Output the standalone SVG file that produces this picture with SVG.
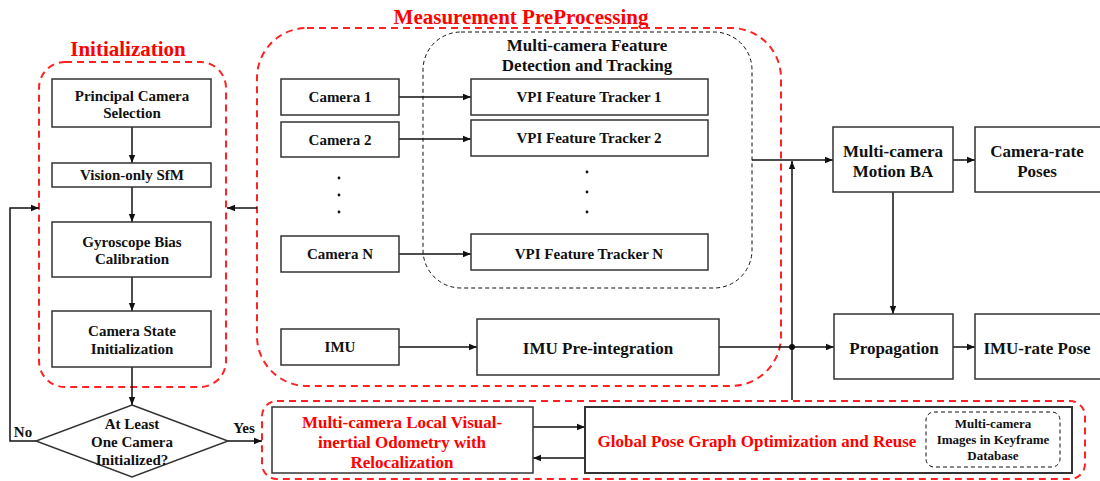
<svg xmlns="http://www.w3.org/2000/svg" width="1100" height="481" viewBox="0 0 1100 481">
<style>
text{font-family:"Liberation Serif","Times New Roman",serif;font-weight:bold;fill:#111;text-anchor:middle}
.box{fill:#fff;stroke:#333;stroke-width:1.5}
.red{fill:none;stroke:#f22;stroke-width:2;stroke-dasharray:7 5}
.blk{fill:none;stroke:#111;stroke-width:1;stroke-dasharray:4 3}
.ln{fill:none;stroke:#111;stroke-width:1.5}
.t15{font-size:15px}
.t17{font-size:17px}
.t13{font-size:13px}
.title{font-size:21px;fill:#f00}
.rt{fill:#f00}
</style>
<defs>
<marker id="ah" viewBox="0 0 10 10" refX="10" refY="5" markerWidth="8" markerHeight="8" markerUnits="userSpaceOnUse" orient="auto">
<path d="M0,1 L10,5 L0,9 z" fill="#111"/>
</marker>
</defs>

<g id="groups">
<text class="title" x="128" y="56">Initialization</text>
<rect class="red" x="39" y="62" width="187" height="325" rx="26"/>
<text class="title" x="521" y="24">Measurement PreProcessing</text>
<rect class="red" x="257" y="28" width="524" height="358" rx="50"/>
<rect class="blk" x="423" y="32" width="329" height="256" rx="38"/>
<text class="t17" x="587" y="51">Multi-camera Feature</text>
<text class="t17" x="587" y="71">Detection and Tracking</text>
<rect class="red" x="262" y="401" width="823" height="78" rx="15"/>
</g>

<g id="connectors">
<line class="ln" x1="132" y1="127" x2="132" y2="163" marker-end="url(#ah)"/>
<line class="ln" x1="132" y1="187" x2="132" y2="222" marker-end="url(#ah)"/>
<line class="ln" x1="132" y1="277" x2="132" y2="311" marker-end="url(#ah)"/>
<line class="ln" x1="132" y1="367" x2="132" y2="405" marker-end="url(#ah)"/>
<polyline class="ln" points="36,441 10,441 10,208 39,208" marker-end="url(#ah)"/>
<line class="ln" x1="257" y1="208" x2="227" y2="208" marker-end="url(#ah)"/>
<line class="ln" x1="228" y1="441" x2="262" y2="441" marker-end="url(#ah)"/>
<line class="ln" x1="399" y1="97" x2="471" y2="97" marker-end="url(#ah)"/>
<line class="ln" x1="399" y1="139" x2="471" y2="139" marker-end="url(#ah)"/>
<line class="ln" x1="399" y1="254" x2="471" y2="254" marker-end="url(#ah)"/>
<line class="ln" x1="399" y1="347" x2="477" y2="347" marker-end="url(#ah)"/>
<line class="ln" x1="719" y1="347" x2="834" y2="347" marker-end="url(#ah)"/>
<circle cx="792" cy="347" r="3" fill="#111"/>
<line class="ln" x1="752" y1="160" x2="833" y2="160" marker-end="url(#ah)"/>
<line class="ln" x1="792" y1="400" x2="792" y2="161" marker-end="url(#ah)"/>
<line class="ln" x1="893" y1="192" x2="893" y2="314" marker-end="url(#ah)"/>
<line class="ln" x1="953" y1="160" x2="975" y2="160" marker-end="url(#ah)"/>
<line class="ln" x1="953" y1="347" x2="975" y2="347" marker-end="url(#ah)"/>
<line class="ln" x1="533" y1="427" x2="585" y2="427" marker-end="url(#ah)"/>
<line class="ln" x1="585" y1="458" x2="533" y2="458" marker-end="url(#ah)"/>
</g>

<g id="n-principal"><rect class="box" x="52" y="79" width="159" height="48"/>
<text class="t15" x="132" y="101">Principal Camera</text><text class="t15" x="132" y="118">Selection</text></g>
<g id="n-sfm"><rect class="box" x="52" y="163" width="159" height="24"/>
<text class="t15" x="132" y="180">Vision-only SfM</text></g>
<g id="n-gyro"><rect class="box" x="52" y="222" width="159" height="55"/>
<text class="t15" x="132" y="247">Gyroscope Bias</text><text class="t15" x="132" y="264">Calibration</text></g>
<g id="n-camstate"><rect class="box" x="52" y="311" width="159" height="56"/>
<text class="t15" x="132" y="336">Camera State</text><text class="t15" x="132" y="354">Initialization</text></g>
<g id="n-decision"><polygon class="box" points="132,405 228,441 132,477 36,441"/>
<text class="t15" x="132" y="429">At Least</text><text class="t15" x="132" y="447">One Camera</text><text class="t15" x="132" y="465">Initialized?</text></g>
<g id="l-no"><text class="t15" x="23" y="437">No</text></g>
<g id="l-yes"><text class="t15" x="244" y="433">Yes</text></g>

<g id="n-cam1"><rect class="box" x="281" y="79" width="118" height="36"/><text class="t15" x="340" y="102">Camera 1</text></g>
<g id="n-cam2"><rect class="box" x="281" y="122" width="118" height="35"/><text class="t15" x="340" y="145">Camera 2</text></g>
<g id="n-camdots"><circle cx="339" cy="178" r="1.4" fill="#111"/><circle cx="339" cy="195" r="1.4" fill="#111"/><circle cx="339" cy="212" r="1.4" fill="#111"/></g>
<g id="n-camN"><rect class="box" x="281" y="236" width="118" height="36"/><text class="t15" x="340" y="259">Camera N</text></g>
<g id="n-imu"><rect class="box" x="281" y="329" width="118" height="36"/><text class="t15" x="340" y="352">IMU</text></g>

<g id="n-vpi1"><rect class="box" x="471" y="79" width="237" height="36"/><text class="t15" x="589" y="102">VPI Feature Tracker 1</text></g>
<g id="n-vpi2"><rect class="box" x="471" y="120" width="237" height="36"/><text class="t15" x="589" y="143">VPI Feature Tracker 2</text></g>
<g id="n-vpidots"><circle cx="587" cy="172" r="1.4" fill="#111"/><circle cx="587" cy="192" r="1.4" fill="#111"/><circle cx="587" cy="212" r="1.4" fill="#111"/></g>
<g id="n-vpiN"><rect class="box" x="471" y="234" width="237" height="36"/><text class="t15" x="589" y="259">VPI Feature Tracker N</text></g>
<g id="n-imupre"><rect class="box" x="477" y="319" width="242" height="56"/><text class="t17" x="598" y="354">IMU Pre-integration</text></g>

<g id="n-motionba"><rect class="box" x="833" y="127" width="120" height="65"/>
<text class="t17" x="893" y="157">Multi-camera</text><text class="t17" x="893" y="177">Motion BA</text></g>
<g id="n-camrate"><rect class="box" x="975" y="127" width="126" height="65"/>
<text class="t17" x="1037" y="157">Camera-rate</text><text class="t17" x="1037" y="177">Poses</text></g>
<g id="n-prop"><rect class="box" x="834" y="314" width="119" height="65"/><text class="t17" x="894" y="354">Propagation</text></g>
<g id="n-imurate"><rect class="box" x="975" y="314" width="126" height="65"/><text class="t17" x="1037" y="354">IMU-rate Pose</text></g>

<g id="n-vio"><rect class="box" x="272" y="407" width="261" height="66"/>
<text class="t17 rt" x="402" y="428">Multi-camera Local Visual-</text>
<text class="t17 rt" x="402" y="448">inertial Odometry with</text>
<text class="t17 rt" x="402" y="468">Relocalization</text></g>
<g id="n-global"><rect class="box" x="585" y="407" width="487" height="66" style="stroke-width:2"/>
<text class="t17 rt" x="757" y="447">Global Pose Graph Optimization and Reuse</text></g>
<g id="n-keyframe"><rect class="blk" x="926" y="412" width="134" height="55" rx="8"/>
<text class="t13" x="993" y="428">Multi-camera</text>
<text class="t13" x="993" y="444">Images in Keyframe</text>
<text class="t13" x="993" y="460">Database</text></g>
</svg>
